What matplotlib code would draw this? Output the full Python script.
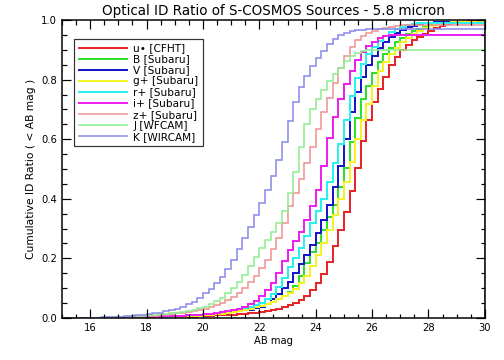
import numpy as np
import matplotlib
matplotlib.use("Agg")
import matplotlib.pyplot as plt
from matplotlib.ticker import MultipleLocator
from matplotlib.lines import Line2D

# magnitude grid: first bin starts at MAG_START, bins of width BIN
MAG_START = 16.0
BIN = 0.2
X_MIN, X_MAX = 15.0, 30.0

u_star = [0.000, 0.000, 0.000, 0.000, 0.000, 0.000, 0.000, 0.001, 0.001, 0.001,
          0.001, 0.001, 0.002, 0.002, 0.002, 0.003, 0.003, 0.004, 0.004, 0.005,
          0.006, 0.007, 0.008, 0.009, 0.010, 0.011, 0.012, 0.014, 0.016, 0.018,
          0.020, 0.023, 0.026, 0.030, 0.035, 0.042, 0.050, 0.060, 0.073, 0.092,
          0.118, 0.148, 0.188, 0.240, 0.295, 0.355, 0.425, 0.505, 0.595, 0.665,
          0.725, 0.770, 0.810, 0.848, 0.875, 0.900, 0.918, 0.932, 0.943, 0.953,
          0.963, 0.972, 0.980, 0.986, 0.990, 0.993, 0.995, 0.996]
B_sub = [0.000, 0.000, 0.000, 0.000, 0.001, 0.001, 0.001, 0.001, 0.001, 0.002,
         0.002, 0.002, 0.003, 0.003, 0.004, 0.004, 0.005, 0.006, 0.007, 0.008,
         0.009, 0.010, 0.012, 0.014, 0.016, 0.019, 0.022, 0.025, 0.029, 0.034,
         0.040, 0.046, 0.053, 0.062, 0.074, 0.088, 0.108, 0.140, 0.185, 0.220,
         0.250, 0.295, 0.340, 0.380, 0.440, 0.505, 0.590, 0.670, 0.735, 0.780,
         0.822, 0.858, 0.885, 0.905, 0.925, 0.940, 0.952, 0.962, 0.970, 0.977,
         0.983, 0.987, 0.990, 0.992, 0.994]
V_sub = [0.000, 0.000, 0.000, 0.000, 0.001, 0.001, 0.001, 0.001, 0.002, 0.002,
         0.002, 0.003, 0.003, 0.004, 0.004, 0.005, 0.006, 0.007, 0.008, 0.009,
         0.010, 0.012, 0.014, 0.016, 0.018, 0.020, 0.022, 0.025, 0.028, 0.032,
         0.038, 0.048, 0.062, 0.080, 0.100, 0.122, 0.150, 0.180, 0.210, 0.245,
         0.285, 0.330, 0.380, 0.440, 0.510, 0.600, 0.690, 0.760, 0.810, 0.850,
         0.880, 0.905, 0.925, 0.945, 0.958, 0.968, 0.976, 0.982, 0.987, 0.990,
         0.992, 0.994]
g_sub = [0.000, 0.000, 0.000, 0.000, 0.000, 0.001, 0.001, 0.001, 0.001, 0.001,
         0.002, 0.002, 0.002, 0.003, 0.003, 0.004, 0.004, 0.005, 0.006, 0.007,
         0.008, 0.010, 0.012, 0.014, 0.017, 0.020, 0.023, 0.027, 0.031, 0.036,
         0.041, 0.047, 0.054, 0.062, 0.072, 0.084, 0.098, 0.118, 0.142, 0.175,
         0.210, 0.250, 0.295, 0.345, 0.400, 0.455, 0.525, 0.600, 0.665, 0.720,
         0.780, 0.830, 0.858, 0.885, 0.905, 0.925, 0.940, 0.953, 0.964, 0.973,
         0.980, 0.985, 0.989, 0.992, 0.994]
r_sub = [0.000, 0.000, 0.000, 0.001, 0.001, 0.001, 0.001, 0.002, 0.002, 0.002,
         0.003, 0.003, 0.004, 0.004, 0.005, 0.006, 0.007, 0.008, 0.009, 0.010,
         0.012, 0.014, 0.016, 0.019, 0.022, 0.025, 0.029, 0.033, 0.037, 0.042,
         0.050, 0.062, 0.080, 0.103, 0.135, 0.170, 0.200, 0.235, 0.275, 0.320,
         0.360, 0.400, 0.455, 0.520, 0.585, 0.665, 0.745, 0.805, 0.852, 0.885,
         0.910, 0.930, 0.947, 0.960, 0.970, 0.978, 0.984, 0.988, 0.990, 0.992]
i_sub = [0.000, 0.000, 0.000, 0.001, 0.001, 0.001, 0.001, 0.002, 0.002, 0.002,
         0.003, 0.003, 0.004, 0.005, 0.005, 0.006, 0.007, 0.008, 0.009, 0.010,
         0.012, 0.014, 0.016, 0.019, 0.022, 0.026, 0.031, 0.038, 0.047, 0.058,
         0.075, 0.095, 0.118, 0.150, 0.190, 0.228, 0.258, 0.290, 0.330, 0.375,
         0.430, 0.510, 0.605, 0.675, 0.735, 0.785, 0.830, 0.865, 0.893, 0.913,
         0.928, 0.940, 0.947, 0.950]
z_sub = [0.000, 0.000, 0.001, 0.001, 0.002, 0.002, 0.003, 0.003, 0.004, 0.005,
         0.006, 0.007, 0.009, 0.011, 0.013, 0.015, 0.017, 0.020, 0.023, 0.026,
         0.030, 0.035, 0.042, 0.050, 0.060, 0.071, 0.085, 0.102, 0.120, 0.142,
         0.168, 0.196, 0.230, 0.268, 0.318, 0.375, 0.420, 0.468, 0.520, 0.575,
         0.635, 0.690, 0.738, 0.790, 0.838, 0.880, 0.910, 0.932, 0.946, 0.956,
         0.963, 0.969, 0.974, 0.978, 0.981, 0.983, 0.985]
J_wfcam = [0.000, 0.001, 0.001, 0.002, 0.002, 0.003, 0.004, 0.005, 0.006, 0.007,
           0.008, 0.010, 0.012, 0.014, 0.016, 0.018, 0.020, 0.023, 0.027, 0.032,
           0.038, 0.046, 0.056, 0.068, 0.083, 0.100, 0.120, 0.145, 0.175, 0.205,
           0.235, 0.262, 0.290, 0.318, 0.360, 0.418, 0.490, 0.575, 0.650, 0.700,
           0.735, 0.765, 0.795, 0.820, 0.840, 0.862, 0.878, 0.890, 0.897, 0.900]
K_wircam = [0.000, 0.001, 0.002, 0.002, 0.003, 0.004, 0.005, 0.006, 0.008, 0.010,
            0.012, 0.015, 0.018, 0.022, 0.026, 0.031, 0.037, 0.045, 0.055, 0.068,
            0.082, 0.097, 0.116, 0.138, 0.165, 0.195, 0.232, 0.268, 0.305, 0.345,
            0.385, 0.430, 0.478, 0.530, 0.590, 0.660, 0.725, 0.775, 0.812, 0.845,
            0.872, 0.895, 0.920, 0.938, 0.950, 0.958, 0.963, 0.966, 0.968, 0.970]

labels = ["u\u2022 [CFHT]", "B [Subaru]", "V [Subaru]", "g+ [Subaru]",
          "r+ [Subaru]", "i+ [Subaru]", "z+ [Subaru]", "J [WFCAM]", "K [WIRCAM]"]
data = [u_star, B_sub, V_sub, g_sub, r_sub, i_sub, z_sub, J_wfcam, K_wircam]
colors = ["#e8262a", "#2ee02e", "#1818c8", "#f2f226", "#2af0f0",
          "#ee22ee", "#f09494", "#92ee92", "#8c8cea"]
widths = [2.0, 2.0, 2.0, 2.0, 2.0, 2.0, 1.6, 1.6, 1.6]

plt.rcParams['font.family'] = ['DejaVu Sans']
fig = plt.figure(figsize=(7, 5), dpi=72)
ax = fig.add_axes([0.123, 0.117, 0.839, 0.827])

n_total = int(round((X_MAX - MAG_START) / BIN))
for vals, color, lw in zip(data, colors, widths):
    v = [0.0] + list(vals) + [vals[-1]] * (n_total - len(vals))
    edges = [X_MIN] + [round(MAG_START + BIN * i, 2) for i in range(n_total + 1)]
    ax.stairs(v, edges, baseline=0, color=color, lw=lw)

ax.set_xlim(X_MIN, X_MAX)
ax.set_ylim(0, 1.0)
ax.xaxis.set_major_locator(MultipleLocator(2))
ax.xaxis.set_minor_locator(MultipleLocator(0.5))
ax.yaxis.set_major_locator(MultipleLocator(0.2))
ax.yaxis.set_minor_locator(MultipleLocator(0.05))
ax.xaxis.set_major_formatter(plt.FuncFormatter(lambda x, p: f"{x:.0f}"))
ax.yaxis.set_major_formatter(plt.FuncFormatter(lambda y, p: f"{y:.1f}"))
ax.tick_params(which='both', direction='in', top=True, right=True, labelsize=10, width=1.2)
ax.tick_params(which='major', length=9, pad=5)
ax.tick_params(which='minor', length=4.5)
for s in ax.spines.values():
    s.set_linewidth(1.5)

ax.set_title("Optical ID Ratio of S-COSMOS Sources - 5.8 micron", fontsize=13.5, pad=5)
ax.set_xlabel("AB mag", fontsize=10, labelpad=3)
ax.set_ylabel("Cumulative ID Ratio ( < AB mag )", fontsize=10.8, labelpad=5)

handles = [Line2D([], [], color=c, lw=w) for c, w in zip(colors, widths)]
leg = ax.legend(handles, labels, loc='upper left', bbox_to_anchor=(0.028, 0.938),
                fontsize=10.5, frameon=True, fancybox=False, edgecolor='black',
                handlelength=4.6, handletextpad=0.6, labelspacing=0.1,
                borderpad=0.45, borderaxespad=0)
leg.get_frame().set_linewidth(1.2)

fig.savefig("out.png", dpi=72)
